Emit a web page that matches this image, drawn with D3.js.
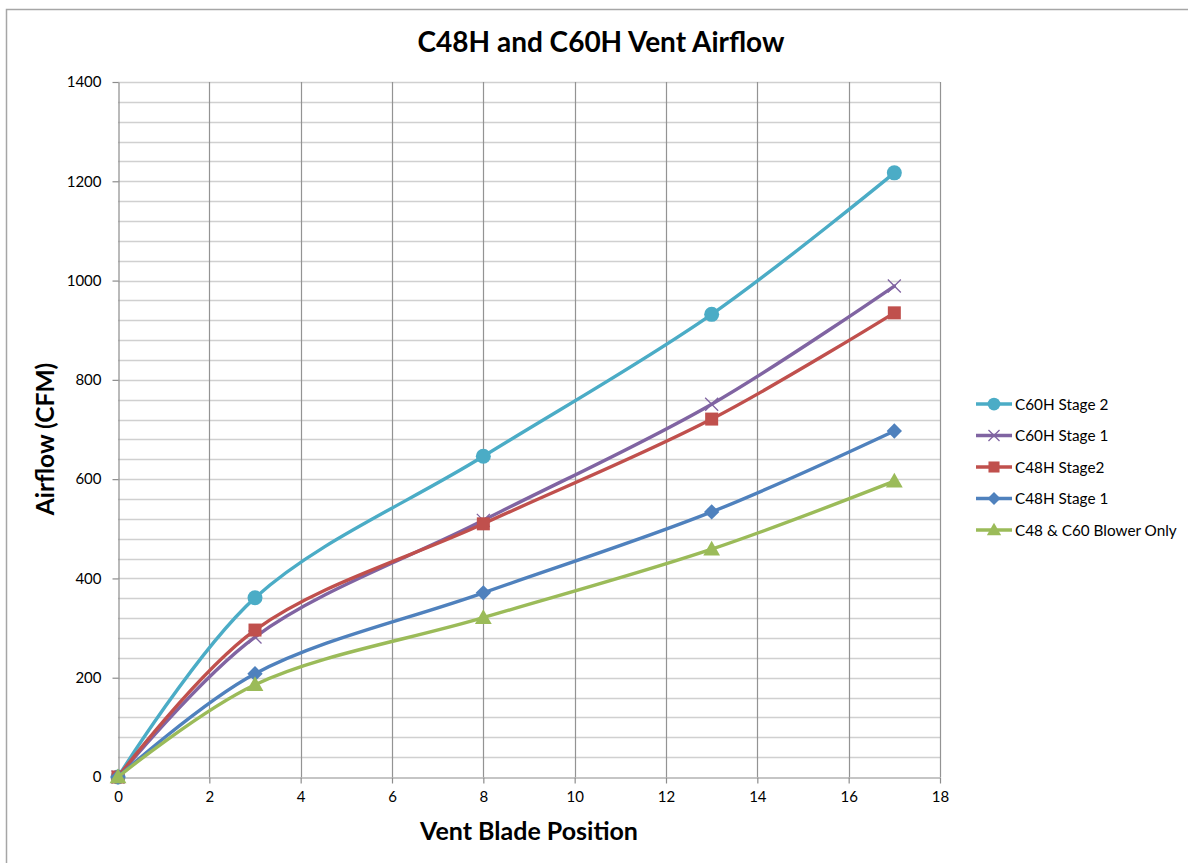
<!DOCTYPE html>
<html>
<head>
<meta charset="utf-8">
<script src="https://cdn.jsdelivr.net/npm/d3@7"></script>
<style>
  body { margin: 0; background: #fff; }
  text { font-family: Lato, "Open Sans", sans-serif; fill: #000; }
</style>
</head>
<body>
<svg id="chart" width="1188" height="863"></svg>
<script>
const xValues = [0, 3, 8, 13, 17];
const seriesNames = ['C60H Stage 2', 'C60H Stage 1', 'C48H Stage2', 'C48H Stage 1', 'C48 & C60 Blower Only'];
const c60Stage2 = [0, 361, 646, 932, 1217];
const c60Stage1 = [0, 282, 517, 751, 989];
const c48Stage2 = [0, 296, 510, 721, 935];
const c48Stage1 = [0, 208, 371, 534, 697];
const blowerOnly = [0, 186, 321, 459, 596];
const xTicks = [0, 2, 4, 6, 8, 10, 12, 14, 16, 18];
const yTicks = [0, 200, 400, 600, 800, 1000, 1200, 1400];

const colors = ['#4bacc6', '#8064a2', '#c0504d', '#4f81bd', '#9bbb59'];
const markers = ['circle', 'cross', 'square', 'diamond', 'triangle'];
const allValues = [c60Stage2, c60Stage1, c48Stage2, c48Stage1, blowerOnly];

const series = seriesNames.map((name, i) => ({
  name,
  color: colors[i],
  marker: markers[i],
  points: xValues.map((x, j) => ({ x, y: allValues[i][j] }))
}));

const svg = d3.select('#chart');

// outer frame (chart area border, runs off the page)
svg.append('rect')
  .attr('x', 6.5).attr('y', 9.5)
  .attr('width', 1300).attr('height', 1000)
  .attr('fill', 'none')
  .attr('stroke', '#a6a6a6')
  .attr('stroke-width', 1.5);

const x = d3.scaleLinear().domain([0, 18]).range([118, 940]);
const y = d3.scaleLinear().domain([0, 1400]).range([777, 82]);

// horizontal grid lines every 40
const minor = d3.range(40, 1401, 40);
svg.append('g').selectAll('line')
  .data(minor)
  .join('line')
  .attr('x1', x(0)).attr('x2', x(18))
  .attr('y1', d => Math.round(y(d)) + 0.5).attr('y2', d => Math.round(y(d)) + 0.5)
  .attr('stroke', '#d0d0d0')
  .attr('stroke-width', 1.5);

// vertical grid lines
svg.append('g').selectAll('line')
  .data(xTicks.slice(1))
  .join('line')
  .attr('x1', d => Math.round(x(d)) + 0.5).attr('x2', d => Math.round(x(d)) + 0.5)
  .attr('y1', y(0)).attr('y2', y(1400))
  .attr('stroke', '#939393')
  .attr('stroke-width', 1.2);

// axes
const xAxis = svg.append('g')
  .attr('transform', `translate(0,${Math.round(y(0)) + 0.5})`)
  .call(d3.axisBottom(x).tickValues(xTicks).tickFormat(d3.format('d'))
    .tickSize(6).tickPadding(8).tickSizeOuter(0));
const yAxis = svg.append('g')
  .attr('transform', `translate(${Math.round(x(0)) + 0.5},0)`)
  .call(d3.axisLeft(y).tickValues(yTicks).tickFormat(d3.format('d'))
    .tickSize(6).tickPadding(11).tickSizeOuter(0));
[xAxis, yAxis].forEach(a => {
  a.select('.domain').attr('stroke', '#8c8c8c').attr('stroke-width', 1.2);
  a.selectAll('.tick line').attr('stroke', '#8c8c8c').attr('stroke-width', 1.2);
  a.selectAll('.tick text').style('font-size', '15px').attr('fill', '#000')
    .style('font-family', 'Lato, "Open Sans", sans-serif');
});

// titles
svg.append('text')
  .attr('x', 601).attr('y', 52)
  .attr('text-anchor', 'middle')
  .style('font-size', '28px').style('font-weight', 'bold')
  .text('C48H and C60H Vent Airflow');
svg.append('text')
  .attr('x', 529).attr('y', 840)
  .attr('text-anchor', 'middle')
  .style('font-size', '25px').style('font-weight', 'bold')
  .text('Vent Blade Position');
svg.append('text')
  .attr('transform', 'translate(54,439) rotate(-90)')
  .attr('text-anchor', 'middle')
  .style('font-size', '24.5px').style('font-weight', 'bold')
  .text('Airflow (CFM)');

function drawMarker(g, type, color, s) {
  if (type === 'circle') {
    g.append('circle').attr('r', 7.5 * s).attr('fill', color);
  } else if (type === 'square') {
    g.append('rect').attr('x', -6.5 * s).attr('y', -6.5 * s)
      .attr('width', 13 * s).attr('height', 13 * s).attr('fill', color);
  } else if (type === 'diamond') {
    g.append('path').attr('d', d3.symbol(d3.symbolDiamond2, 150 * s * s)()).attr('fill', color);
  } else if (type === 'triangle') {
    const h = 14 * s;
    g.append('path').attr('d', `M0,${-h * 0.6}L${h * 0.6},${h * 0.45}L${-h * 0.6},${h * 0.45}Z`).attr('fill', color);
  } else if (type === 'cross') {
    const r = 6.5 * s;
    g.append('path').attr('d', `M${-r},${-r}L${r},${r}M${-r},${r}L${r},${-r}`)
      .attr('stroke', color).attr('stroke-width', 1.3).attr('fill', 'none');
  }
}

const line = d3.line()
  .x(d => x(d.x))
  .y(d => y(d.y))
  .curve(d3.curveCatmullRom.alpha(0.5));

series.forEach(s => {
  const g = svg.append('g');
  g.append('path')
    .datum(s.points)
    .attr('d', line)
    .attr('fill', 'none')
    .attr('stroke', s.color)
    .attr('stroke-width', 3.4)
    .attr('stroke-linecap', 'round');
  s.points.forEach(p => {
    drawMarker(g.append('g').attr('transform', `translate(${x(p.x)},${y(p.y)})`), s.marker, s.color, 1);
  });
});

// legend
const legend = svg.append('g').attr('transform', 'translate(976,404)');
series.forEach((s, i) => {
  const row = legend.append('g').attr('transform', `translate(0,${i * 31.5})`);
  row.append('line').attr('x1', 0).attr('x2', 36).attr('stroke', s.color).attr('stroke-width', 3.4);
  drawMarker(row.append('g').attr('transform', 'translate(18,0)'), s.marker, s.color, 0.85);
  row.append('text').attr('x', 39).attr('y', 5.5).style('font-size', '15.3px').text(s.name);
});
</script>
</body>
</html>
